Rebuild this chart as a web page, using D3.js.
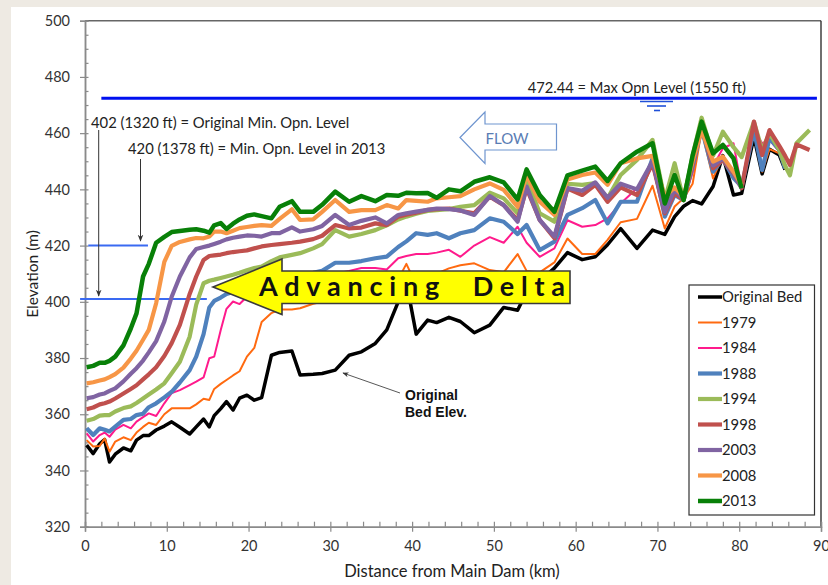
<!DOCTYPE html>
<html>
<head>
<meta charset="utf-8">
<script src="https://cdn.jsdelivr.net/npm/d3@7"></script>
<style>
  body { margin: 0; background: #eeeae3; }
  svg { display: block; font-family: Lato, "Open Sans", sans-serif; }
</style>
</head>
<body>
<svg id="chart" width="828" height="585"></svg>
<script>
// survey stations along the reservoir (km from dam)
const distanceKm = [0.2,1.0,1.8,2.4,3.0,3.7,4.7,5.6,6.3,7.1,
  7.8,8.7,9.7,10.6,11.6,12.8,13.6,14.5,15.2,15.8,
  16.6,17.3,18.1,18.9,19.8,20.7,21.6,22.8,23.8,25.3,
  26.3,27.9,29.0,30.6,32.3,33.8,35.5,36.9,38.3,39.3,
  40.5,41.9,43.0,44.5,45.9,47.6,49.5,51.2,52.9,54.0,
  55.6,57.4,59.0,60.8,62.4,63.9,65.5,67.5,69.4,70.9,
  72.1,73.2,74.3,75.4,76.8,78.0,79.3,80.3,81.8,82.8,
  83.7,84.9,85.6,86.2,87.0,88.6];

const originalBed = [349,346,349.5,351,343,345.8,348,347,350.8,352.4,
  352.4,354.4,355.8,357.3,355.4,353,355.5,358.3,355.5,359.5,
  362,364.5,361.5,365.7,366.8,365,365.9,381,382,382.5,
  374,374.2,374.5,375.7,381,382.2,385.2,390,400,407,
  388.5,393.5,392.6,394.5,393,389,391.7,398,397,403.6,
  407.5,412,417.5,415,416,420.3,426,419,425.5,424,
  430.3,434,436,434.8,441,452,438,438.6,458.7,445.5,
  454.3,452.2,447,null,null,null];

const bed1979 = [350.8,348.5,348.7,351.4,346.7,350.3,351.8,350.8,353.5,355.5,
  357,356.2,360,362.1,362.1,362.1,363.5,365.5,365.1,369,
  370.8,372.2,373.8,375.3,380.5,383.6,392.8,396,397.3,397.3,
  397.7,399.3,400,401.5,403.5,405,406.5,408,408,413.5,
  406,408,410,411.9,413,413.7,411.3,410.5,417,411,
  410.5,414,422.5,417,417,422,428.3,429.5,441.3,426.1,
  433.9,436.8,442,461,443.9,452,446,440.4,460,446.3,
  454.3,452.8,447.5,null,null,null];

const bed1984 = [353.2,350.3,352.6,353.5,352,354.5,356.2,355,357.4,359,
  360.3,359.4,363.9,367.5,368.6,370.4,371.6,373.1,379.9,380.5,
  390,397.5,400.1,399.2,401.8,403,404,405,406,407,
  407.5,408,408.5,410,411,412,412,411.5,415.5,416.3,
  417,417,417.5,418.5,416,420,423,421,426.7,421,
  416,419,429,426.7,427.3,429.7,435,440.4,448.1,431.5,
  439.8,436.2,446,461.1,448.1,454.6,456.4,440.4,461.1,456.4,
  457.6,453.4,447.5,null,null,null];

const bed1988 = [355,352.6,355,354.5,353.9,355.6,358,358.3,359.7,360.2,
  362.5,363.9,366,368,371.3,375.7,380.5,388.5,398,400.3,
  401.5,402.8,403.5,404,405,406,406.5,407.5,408,409,
  409.5,410.3,411,413.9,413.9,414.5,415.5,416.1,419.5,421.5,
  424.4,423.8,424.4,422.6,424.4,425.5,429.7,428.5,424.1,427.3,
  418.4,421.4,430.9,433.3,436.2,427.9,435.6,435.6,451,430.3,
  438,436.2,448,461.7,446.3,451,444,441,461.1,446.9,
  458.2,454,447.5,null,null,null];

const bed1994 = [357.7,358.3,359.5,359.7,359.7,361,362.2,362.8,364,365.6,
  367,368.8,371,374.6,378.7,387.6,399,406.6,407.5,407.9,
  408.5,409,409.6,410.3,411.2,412,412.5,414.5,415.8,416.7,
  417.3,419,420.5,425.5,423.2,424.1,425.5,427.2,429.3,430.3,
  431.3,432.3,432.6,433,433.8,434.4,438.8,436.8,431.5,443.9,
  431.5,428.5,442,441.6,442.2,436.8,445.1,450.5,457.6,436.2,
  449.3,436.2,452,465.5,452,460.5,455,451.5,464,454,
  460,454,448.5,445,456.4,461.1];

const bed1998 = [361.8,362.4,363.5,363.9,364.5,365.6,367.4,369,370.3,372.4,
  374.2,376.7,380.7,385.3,391.8,402.8,409,414.9,416.3,416.5,
  416.8,417.3,417.7,418,418.3,419,419.7,420.2,420.5,421,
  421.4,422.3,423.5,427.3,426.1,426.4,427.9,427.3,430.3,431,
  431.7,432.7,433,433.2,432.4,431.5,437.4,434.4,429.1,440.3,
  429.1,422.6,440.3,438,441.6,435.6,440.7,438,449.3,431.5,
  438.6,436.2,449,462.9,447.5,450.5,445.7,440.4,464.1,452.2,
  461.1,455.5,452,448.7,456,454];

const bed2003 = [365.7,366.1,367,367.4,368.3,369.2,371.7,374.4,376.4,379.1,
  382,386,393,401.8,409,415.8,418.8,419.5,420,420.6,
  421.4,422.2,422.8,423.2,423.6,423.5,423.2,424.4,424.4,426.5,
  425,425.8,427,430.9,427.3,428.8,430,427.9,430.9,431.5,
  432.1,432.7,433.2,433,432.5,430.9,437.6,434.4,428.5,441,
  429.1,423.2,440.5,439.5,442.5,437,442,440,450,432,
  440,436.5,450,463.5,448.5,451,446,440.4,null,null,
  null,null,null,null,null,null];

const bed2008 = [371,371.4,372,372.4,373.2,374.3,376.6,379.8,382.6,386.5,
  390,399.5,414.2,419.9,421.3,422.2,422.7,422.6,423.2,425,
  425,424.4,425.3,426.2,426.6,427,427.3,427,429.5,432.9,
  429.1,429.3,432,436.2,432,432.6,432.6,434.4,433.2,436.2,
  435.9,435.6,436.8,437.2,437.6,440,442.1,439.8,433.8,445.1,
  435.6,430.9,443.5,445.1,446,441.6,449.3,451,451.9,437.4,
  440.7,437.4,450,461.1,449.9,451.6,446.3,441.6,null,null,
  null,null,null,null,null,null];

const bed2013 = [376.7,377.2,378.3,378.3,379,380.5,384.5,390.5,395.9,409,
  413.5,421,423.1,424.8,425.2,425.6,425.8,425.3,424.6,427.2,
  428,425.9,427.8,429.3,430.6,431.1,430.5,429.7,433.8,435.8,
  432,432,434.5,439.2,435.6,437.6,435.8,438,437.7,438.8,
  438.6,438.7,437,440,439.3,442.7,444.3,442.5,436.4,447.1,
  438,432,445,446.7,448.1,443,449.3,453.4,456.4,435,
  445.1,436.2,452,464.1,452.8,455.8,451,440.4,null,null,
  null,null,null,null,null,null];

const seriesNames = ["Original Bed", "1979", "1984", "1988", "1994", "1998", "2003", "2008", "2013"];
const seriesValues = [originalBed, bed1979, bed1984, bed1988, bed1994, bed1998, bed2003, bed2008, bed2013];
const seriesColors = ["#000000", "#ff6a10", "#ff1a8c", "#4f81bd", "#9bbb59", "#c0504d", "#8064a2", "#f79646", "#088008"];
const seriesWidths = [3.5, 2, 2, 4.2, 4.2, 4.2, 4.2, 4.2, 4.5];

const xTicks = [0, 10, 20, 30, 40, 50, 60, 70, 80, 90];
const yTicks = [320, 340, 360, 380, 400, 420, 440, 460, 480, 500];

const maxOpnLevel = 472.44;
const minOpnLevels = [401, 420];

const svg = d3.select("#chart");
const plotLeft = 85, plotRight = 821, plotTop = 20.7, plotBottom = 526.7;

let x = d3.scaleLinear().domain([0, 90]).range([plotLeft, plotRight]);
let y = d3.scaleLinear().domain([320, 500]).range([plotBottom, plotTop]);

// white page area
svg.append("rect").attr("x", 11).attr("y", 7).attr("width", 817).attr("height", 578).attr("fill", "#fff");

let defs = svg.append("defs");
defs.append("marker").attr("id", "arr")
  .attr("viewBox", "0 0 10 10").attr("refX", 9).attr("refY", 5)
  .attr("markerWidth", 7).attr("markerHeight", 7).attr("orient", "auto")
  .append("path").attr("d", "M0,1 L10,5 L0,9 L3,5 z").attr("fill", "#333");

// frame
svg.append("line").attr("x1", plotLeft).attr("x2", plotRight).attr("y1", plotTop).attr("y2", plotTop)
  .attr("stroke", "#666").attr("stroke-width", 1.5);
svg.append("line").attr("x1", plotRight).attr("x2", plotRight).attr("y1", plotTop).attr("y2", plotBottom)
  .attr("stroke", "#222").attr("stroke-width", 1.3);

// axes: major ticks outside, minor ticks inside
svg.append("g").attr("transform", `translate(${plotLeft},0)`)
  .call(d3.axisLeft(y).tickValues(yTicks).tickSize(5).tickPadding(10));
svg.append("g").attr("transform", `translate(${plotLeft},0)`)
  .call(d3.axisRight(y).tickValues(d3.range(320, 501, 5)).tickSize(3.5).tickFormat(""));
svg.append("g").attr("transform", `translate(0,${plotBottom})`)
  .call(d3.axisBottom(x).tickValues(xTicks).tickSize(5).tickPadding(9));
svg.append("g").attr("transform", `translate(0,${plotBottom})`)
  .call(d3.axisTop(x).tickValues(d3.range(0, 91, 2)).tickSize(5).tickFormat(""));

svg.selectAll(".domain").attr("stroke", "#8a8a8a").attr("stroke-width", 1.5);
svg.selectAll(".tick line").attr("stroke", "#8a8a8a").attr("stroke-width", 1.2);
svg.selectAll(".tick text").attr("font-size", 14.5).attr("fill", "#333").attr("font-family", "Lato, sans-serif");

svg.append("text").attr("transform", "translate(38,274) rotate(-90)")
  .attr("text-anchor", "middle").attr("font-size", 15.5).attr("fill", "#222")
  .text("Elevation (m)");
svg.append("text").attr("x", 452).attr("y", 577)
  .attr("text-anchor", "middle").attr("font-size", 16.5).attr("fill", "#222")
  .text("Distance from Main Dam (km)");

// max operating level
svg.append("line").attr("x1", x(2)).attr("x2", x(89.5)).attr("y1", y(maxOpnLevel)).attr("y2", y(maxOpnLevel))
  .attr("stroke", "#0010f0").attr("stroke-width", 3);
svg.append("text").attr("x", 746).attr("y", 92.5).attr("text-anchor", "end")
  .attr("font-size", 14.7).attr("fill", "#222").text("472.44 = Max Opn Level (1550 ft)");
let wl = svg.append("g").attr("stroke", "#2050d8").attr("stroke-width", 1.6);
[[640, 673, 101.5], [647, 666, 106], [654, 660, 110.5]].forEach(s => {
  wl.append("line").attr("x1", s[0]).attr("x2", s[1]).attr("y1", s[2]).attr("y2", s[2]);
});

// minimum operating levels
svg.append("line").attr("x1", x(-0.6)).attr("x2", x(14.9)).attr("y1", y(minOpnLevels[0])).attr("y2", y(minOpnLevels[0]))
  .attr("stroke", "#3a6af2").attr("stroke-width", 2);
svg.append("line").attr("x1", x(0.4)).attr("x2", x(7.7)).attr("y1", y(minOpnLevels[1])).attr("y2", y(minOpnLevels[1]))
  .attr("stroke", "#3a6af2").attr("stroke-width", 2);
svg.append("text").attr("x", 91).attr("y", 127.5).attr("font-size", 14.8).attr("fill", "#222")
  .text("402 (1320 ft) = Original Min. Opn. Level");
svg.append("text").attr("x", 128).attr("y", 154).attr("font-size", 14.8).attr("fill", "#222")
  .text("420 (1378 ft) = Min. Opn. Level in 2013");
svg.append("line").attr("x1", 98.7).attr("x2", 98.7).attr("y1", 130).attr("y2", 296)
  .attr("stroke", "#333").attr("stroke-width", 1).attr("marker-end", "url(#arr)");
svg.append("line").attr("x1", 140.5).attr("x2", 140.5).attr("y1", 159).attr("y2", 241)
  .attr("stroke", "#333").attr("stroke-width", 1).attr("marker-end", "url(#arr)");

// flow arrow
svg.append("path").attr("d", "M460,137.5 L485,112 L485,124 L556.5,124 L556.5,150 L485,150 L485,163.5 Z")
  .attr("fill", "none").attr("stroke", "#6f95cf").attr("stroke-width", 1.2);
svg.append("text").attr("x", 507).attr("y", 143.5).attr("text-anchor", "middle")
  .attr("font-size", 15).attr("fill", "#5a7db4").text("FLOW");

// bed profiles
let line = d3.line()
  .defined(d => d[1] != null)
  .x(d => x(d[0]))
  .y(d => y(d[1]));

seriesValues.forEach((vals, i) => {
  svg.append("path")
    .datum(distanceKm.map((k, j) => [k, vals[j]]))
    .attr("d", line)
    .attr("fill", "none")
    .attr("stroke", seriesColors[i])
    .attr("stroke-width", seriesWidths[i])
    .attr("stroke-linejoin", "round");
});

// original bed annotation
svg.append("line").attr("x1", 400).attr("y1", 393).attr("x2", 343).attr("y2", 373)
  .attr("stroke", "#444").attr("stroke-width", 0.9).attr("marker-end", "url(#arr)");
svg.append("text").attr("x", 405).attr("y", 400).attr("font-size", 14).attr("font-weight", "bold")
  .attr("font-family", "'Liberation Sans', Arial, sans-serif").attr("fill", "#111").text("Original");
svg.append("text").attr("x", 405).attr("y", 417).attr("font-size", 14).attr("font-weight", "bold")
  .attr("font-family", "'Liberation Sans', Arial, sans-serif").attr("fill", "#111").text("Bed Elev.");

// advancing delta banner
svg.append("path").attr("d", "M213,287 L282,259 L282,271 L570,271 L570,303.5 L282,303.5 L282,314.5 Z")
  .attr("fill", "#ffff00").attr("stroke", "#3a3a3a").attr("stroke-width", 1.6);
svg.append("text").attr("x", 259).attr("y", 296).attr("font-size", 27).attr("font-weight", "bold")
  .attr("fill", "#111").attr("textLength", 306).attr("lengthAdjust", "spacing")
  .attr("xml:space", "preserve").text("Advancing  Delta");

// legend
let legend = svg.append("g");
legend.append("rect").attr("x", 689).attr("y", 285).attr("width", 125.5).attr("height", 230)
  .attr("fill", "#fff").attr("stroke", "#333").attr("stroke-width", 1.2);
seriesNames.forEach((name, i) => {
  let ly = 297 + i * 25.5;
  legend.append("line").attr("x1", 698).attr("x2", 722).attr("y1", ly).attr("y2", ly)
    .attr("stroke", seriesColors[i]).attr("stroke-width", seriesWidths[i]);
  legend.append("text").attr("x", 722).attr("y", ly + 5).attr("font-size", 14.8)
    .attr("fill", "#222").text(name);
});
</script>
</body>
</html>
